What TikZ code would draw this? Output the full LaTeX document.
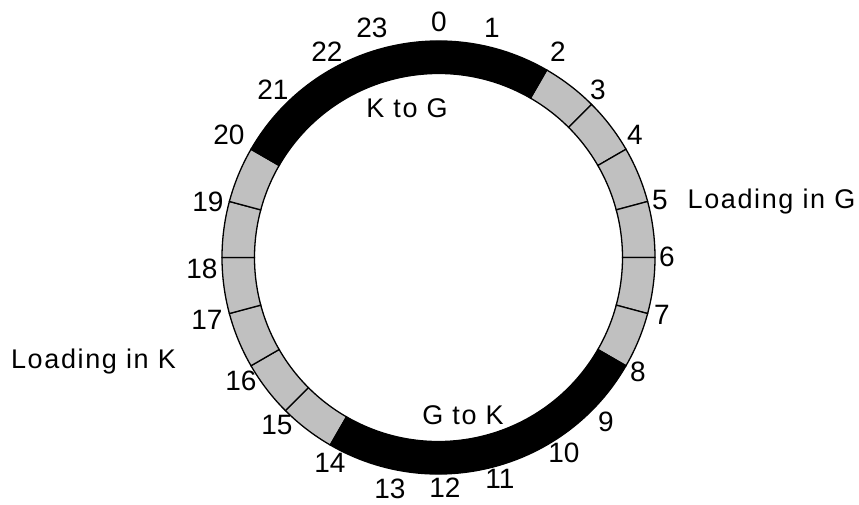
\documentclass[tikz,border=0pt]{standalone}
\usepackage{fontspec}
\setmainfont{Liberation Sans}
\usepackage{tikz}
\usetikzlibrary{positioning}
\definecolor{loadgrey}{HTML}{C0C0C0}
\newcommand{\rin}{184pt}
\newcommand{\rout}{216.5pt}
% one annular sector of the day ring, from angle #2 to angle #3
\newcommand{\ringsector}[3]{%
  \path[#1] (#2:\rin) arc[start angle=#2, end angle=#3, radius=\rin]
    -- (#3:\rout) arc[start angle=#3, end angle=#2, radius=\rout] -- cycle;}
\tikzset{
  % ---- ring sectors ---------------------------------------------------
  loadcell/.style={draw=black, line width=1.3pt, fill=loadgrey},
  transfercell/.style={draw=black, line width=1.3pt, fill=black},
  % ---- texts ----------------------------------------------------------
  hourlabel/.style={font=\fontsize{28}{30}\selectfont, inner sep=0pt},
  phaselabel/.style={font=\fontsize{27}{30}\selectfont\addfontfeature{LetterSpace=6},
    inner sep=0pt},
}

\begin{document}
\begin{tikzpicture}

\useasboundingbox (-438.5pt,-246.5pt) rectangle (420.5pt,257.5pt);

% ---- loading hours: one cell per hour ------------------------------
\foreach \h in {2,3,4,5,6,7,14,15,16,17,18,19} {
  \pgfmathsetmacro{\a}{90-15*\h}
  \pgfmathsetmacro{\b}{75-15*\h}
  \ringsector{loadcell}{\a}{\b}
}

% ---- transfer periods ------------------------------------------------
\ringsector{transfercell}{150}{60}
\ringsector{transfercell}{-30}{-120}

% ---- hour numbers ----------------------------------------------------
\foreach \h/\x/\y in {0/0.5/235.5, 1/53.5/229.5, 2/119.5/205.5, 3/159.5/167.5,
    4/196.5/122.5, 5/221.5/57.5, 6/228.5/0.5, 7/223.5/-57.5,
    8/199.5/-114.5, 9/167.5/-164.5, 10/125.5/-195.5, 11/61.5/-221.5,
    12/6.5/-230.5, 13/-48.5/-231.5, 14/-108.5/-205.5, 15/-161.5/-167.5,
    16/-197.5/-123.5, 17/-231.5/-62.5, 18/-236.5/-11.5, 19/-230.5/55.5,
    20/-209.5/122.5, 21/-165.5/167.5, 22/-111.5/205.5, 23/-66.5/229.5}
  \node[hourlabel] (hour\h) at (\x pt,\y pt) {\h};

% ---- phase labels ----------------------------------------------------
\node[phaselabel] (ktog) at (-31.5pt,149.5pt) {K to G};
\node[phaselabel] (gtok) at (24.5pt,-157.5pt) {G to K};
\node[phaselabel] (loadg) at (333pt,55.5pt) {Loading in G};
\node[phaselabel] (loadk) at (-345pt,-104.5pt) {Loading in K};

\end{tikzpicture}
\end{document}
